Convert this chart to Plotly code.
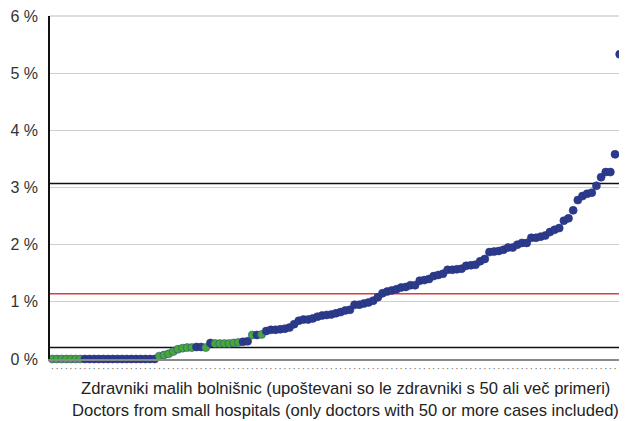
import plotly.graph_objects as go

# ---- data (values in %) ----
values = [
    0, 0, 0, 0, 0, 0, 0,                      # 0-6
    0, 0, 0, 0, 0, 0, 0, 0, 0, 0, 0, 0, 0, 0, 0, 0,  # 7-22
    0.05, 0.07, 0.09, 0.13, 0.17, 0.19, 0.20, 0.20,  # 23-30
    0.21, 0.21, 0.20, 0.28, 0.27, 0.27, 0.27, 0.27, 0.28, 0.29,  # 31-40
    0.30, 0.31, 0.42, 0.42, 0.43, 0.49, 0.51, 0.51, 0.52, 0.53,  # 41-50
    0.55, 0.61, 0.67, 0.69, 0.69, 0.71, 0.74, 0.76, 0.77, 0.78,  # 51-60
    0.80, 0.82, 0.85, 0.86, 0.95, 0.95, 0.97, 0.99, 1.02, 1.08,  # 61-70
    1.15, 1.18, 1.20, 1.22, 1.25, 1.26, 1.29, 1.29, 1.37, 1.38,  # 71-80
    1.40, 1.45, 1.47, 1.49, 1.56, 1.56, 1.57, 1.58, 1.63, 1.64,  # 81-90
    1.65, 1.71, 1.75, 1.87, 1.88, 1.89, 1.91, 1.95, 1.95, 2.00,  # 91-100
    2.03, 2.03, 2.12, 2.12, 2.14, 2.16, 2.22, 2.26, 2.29, 2.42,  # 101-110
    2.46, 2.60, 2.78, 2.85, 2.89, 2.91, 3.03, 3.18, 3.27, 3.27,  # 111-120
    3.58, 5.33,                                                  # 121-122
]
green_idx = [0, 1, 2, 3, 4, 5, 6,
             23, 24, 25, 26, 27, 28, 29, 30,
             33, 35, 36, 37, 38, 39, 40, 43, 45]
ref_black = [0.20, 3.07]
ref_red = [1.14]
y_ticks = [0, 1, 2, 3, 4, 5, 6]
y_ticktext = ["0 %", "1 %", "2 %", "3 %", "4 %", "5 %", "6 %"]
title_lines = [
    "Zdravniki malih bolnišnic (upoštevani so le zdravniki s 50 ali več primeri)",
    "Doctors from small hospitals (only doctors with 50 or more cases included)",
]

cats = list(range(len(values)))
BLUE = "#2c3a8c"
GREEN = "#45a83a"
colors = [GREEN if i in green_idx else BLUE for i in cats]
lines = ["#3b4a8a" if i in green_idx else "#26337d" for i in cats]

fig = go.Figure()
for v in ref_black:
    fig.add_hline(y=v, line=dict(color="#111111", width=1.5), layer="below")
for v in ref_red:
    fig.add_hline(y=v, line=dict(color="#e03a3a", width=1.5), layer="below")

fig.add_trace(go.Scatter(
    x=cats, y=values, mode="markers",
    marker=dict(size=8, color=colors, line=dict(color=lines, width=0.6)),
    cliponaxis=False, showlegend=False, hoverinfo="skip",
))

fig.add_shape(type="line", xref="paper", yref="paper", x0=1, x1=1, y0=0, y1=1,
              line=dict(color="#9a9a9a", width=1))
fig.add_shape(type="line", xref="paper", yref="paper", x0=0, x1=1, y0=1, y1=1,
              line=dict(color="#bdbdbd", width=1))

# page body has an 8px margin, so the figure is 8px smaller and offset
fig.update_layout(
    width=619, height=413,
    margin=dict(l=42, r=5, t=8, b=62),
    paper_bgcolor="white", plot_bgcolor="white",
    font=dict(family="Liberation Sans, Arial, sans-serif", color="#333333"),
)
fig.update_xaxes(
    range=[-0.5, len(values) - 0.5], automargin=False,
    tickmode="array", tickvals=cats, ticktext=["·"] * len(cats),
    tickfont=dict(size=11, color="#777777"), tickangle=0,
    showgrid=False, zeroline=False,
    showline=True, linecolor="#8a8a8a", linewidth=1.5,
    ticks="", ticklabelstandoff=-2, ticklabeloverflow="allow",
)
fig.update_yaxes(
    range=[0, 6], automargin=False,
    tickmode="array", tickvals=y_ticks, ticktext=y_ticktext,
    tickfont=dict(size=16, color="#333333"),
    showgrid=True, gridcolor="#cfcfcf", gridwidth=1,
    zeroline=False, showline=True, linecolor="#111111", linewidth=1.5,
    ticks="", ticklabelstandoff=7, ticklabeloverflow="allow",
)
for k, line in enumerate(title_lines):
    fig.add_annotation(
        text=line, xref="paper", yref="paper", x=0.517, y=0,
        yshift=-29 - 22 * k, yanchor="middle", xanchor="center", showarrow=False,
        font=dict(size=16.6, color="#222222", family="Liberation Sans, Arial, sans-serif"),
    )

fig.write_html("out.html")
